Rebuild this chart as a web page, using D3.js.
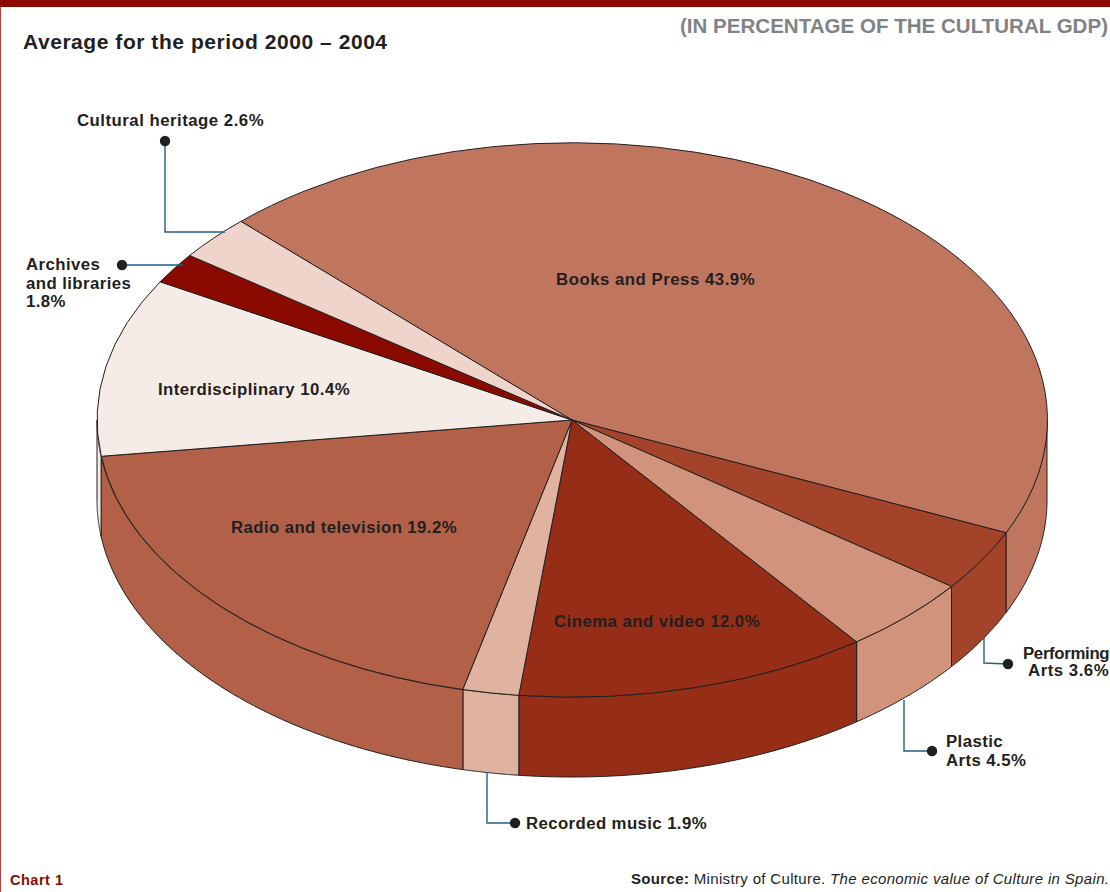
<!DOCTYPE html>
<html>
<head>
<meta charset="utf-8">
<script src="https://cdnjs.cloudflare.com/ajax/libs/d3/7.8.5/d3.min.js"></script>
<style>
  html, body { margin: 0; padding: 0; background: #fff; }
  svg { display: block; }
  text { font-family: "Liberation Sans", Arial, sans-serif; fill: #231f20; }
  .bold { font-weight: 700; }
</style>
</head>
<body>
<svg id="chart" width="1110" height="892"></svg>
<script>
// Shares of the cultural GDP, clockwise from the Books and Press slice
const categories = ["Books and Press", "Performing Arts", "Plastic Arts", "Cinema and video",
  "Recorded music", "Radio and television", "Interdisciplinary", "Archives and libraries", "Cultural heritage"];
const shares = [43.9, 3.6, 4.5, 12.0, 1.9, 19.2, 10.4, 1.8, 2.6];
const sliceColors = ["#c0765e", "#a2432a", "#d1937c", "#962d17", "#e0b3a1", "#b26048", "#f5ece7", "#8b0a00", "#eed4ca"];

const width = 1110, height = 892;
const centre = { x: 572, y: 420 }, radius = { x: 475, y: 277 }, thickness = 80;
const startDeg = -44.2;
const ink = "#231f20", leaderColor = "#1f6288", brand = "#8b0a00";

const svg = d3.select("#chart");
const x = d3.scaleLinear().domain([-1, 1]).range([centre.x - radius.x, centre.x + radius.x]);
const y = d3.scaleLinear().domain([-1, 1]).range([centre.y - radius.y, centre.y + radius.y]);

const start = startDeg * Math.PI / 180;
const slices = d3.pie().sort(null).value(d => d)
  .startAngle(start).endAngle(start + 2 * Math.PI)(shares);

// Page furniture
svg.append("rect").attr("x", 0).attr("y", 0).attr("width", 1).attr("height", height).attr("fill", "#b4403e");
svg.append("rect").attr("x", 0).attr("y", 0).attr("width", width).attr("height", 7).attr("fill", brand);

// Point on the rim for a clockwise-from-top angle, with an optional drop for the lower edge
const rim = (a, drop = 0) => [x(Math.sin(a)), y(-Math.cos(a)) + drop];
const outline = d3.line();

// Outer wall of the disc: only the front half of the rim (90° to 270°) can be seen
function wallPath(a0, a1) {
  const s = Math.max(a0, Math.PI / 2), e = Math.min(a1, 3 * Math.PI / 2);
  if (e <= s) return null;
  const steps = d3.range(0, 61).map(i => s + (e - s) * i / 60);
  const upper = steps.map(a => rim(a));
  const lower = steps.slice().reverse().map(a => rim(a, thickness));
  return outline(upper.concat(lower)) + "Z";
}

const walls = svg.append("g");
slices.forEach((s, i) => {
  const d = wallPath(s.startAngle, s.endAngle);
  if (d) walls.append("path").attr("d", d)
    .attr("fill", sliceColors[i]).attr("stroke", ink).attr("stroke-width", 1).attr("stroke-linejoin", "round");
});

// Top face: a unit pie stretched into an ellipse
const arc = d3.arc().innerRadius(0).outerRadius(1);
svg.append("g")
  .attr("transform", `translate(${x(0)},${y(0)}) scale(${radius.x},${radius.y})`)
  .selectAll("path").data(slices).join("path")
  .attr("d", arc)
  .attr("fill", (d, i) => sliceColors[i])
  .attr("stroke", ink).attr("stroke-width", 1)
  .attr("stroke-linejoin", "round")
  .attr("vector-effect", "non-scaling-stroke");

// Leader lines and their dots
const leaders = [
  [[165, 141], [165, 232], [225, 232]],
  [[122, 265], [183, 265]],
  [[1008, 664], [984, 663], [984, 638]],
  [[932, 751], [904, 751], [904, 700]],
  [[515, 823], [487, 823], [487, 772]]
];
const leaderG = svg.append("g");
leaders.forEach(pts => {
  leaderG.append("path").attr("d", outline(pts)).attr("fill", "none")
    .attr("stroke", leaderColor).attr("stroke-width", 1.4);
  leaderG.append("circle").attr("cx", pts[0][0]).attr("cy", pts[0][1]).attr("r", 5.2).attr("fill", ink);
});

// Slice labels; a set width keeps a one-line label to its measured extent
const pct = i => d3.format(".1f")(shares[i]) + "%";
const labelSize = 16.8, labelSpacing = 0.42;
function label(px, py, str, span) {
  const t = svg.append("text").attr("class", "bold").attr("x", px).attr("y", py)
    .attr("font-size", labelSize).attr("letter-spacing", labelSpacing).text(str);
  if (span) t.attr("textLength", span).attr("lengthAdjust", "spacing");
}
label(556, 285, `${categories[0]} ${pct(0)}`, 199);
label(158, 395, `${categories[6]} ${pct(6)}`, 192);
label(231, 533, `${categories[5]} ${pct(5)}`, 226);
label(554, 627, `${categories[3]} ${pct(3)}`, 206);
label(77, 126, `${categories[8]} ${pct(8)}`, 187);
label(26, 270, "Archives");
label(26, 289, "and libraries");
label(26, 307, pct(7));
label(1023, 659, "Performing", 87);
label(1028, 676, `Arts ${pct(1)}`, 81);
label(946, 747, "Plastic");
label(946, 766, `Arts ${pct(2)}`);
label(526, 829, `${categories[4]} ${pct(4)}`, 181);

// Headings
svg.append("text").attr("class", "bold").attr("x", 23).attr("y", 49)
  .attr("font-size", 21).attr("letter-spacing", 0.55).text("Average for the period 2000 – 2004");
svg.append("text").attr("class", "bold").attr("x", 680).attr("y", 33)
  .attr("font-size", 20.5).attr("textLength", 428).attr("lengthAdjust", "spacingAndGlyphs")
  .style("fill", "#808285").text("(IN PERCENTAGE OF THE CULTURAL GDP)");

// Footer
svg.append("text").attr("class", "bold").attr("x", 10).attr("y", 885)
  .attr("font-size", 14.5).attr("letter-spacing", 0.5).style("fill", brand).text("Chart 1");
const source = svg.append("text").attr("x", 631).attr("y", 884).attr("font-size", 15).attr("letter-spacing", 0.34);
source.append("tspan").attr("class", "bold").text("Source:");
source.append("tspan").text(" Ministry of Culture. ");
source.append("tspan").attr("font-style", "italic").text("The economic value of Culture in Spain.");
</script>
</body>
</html>
